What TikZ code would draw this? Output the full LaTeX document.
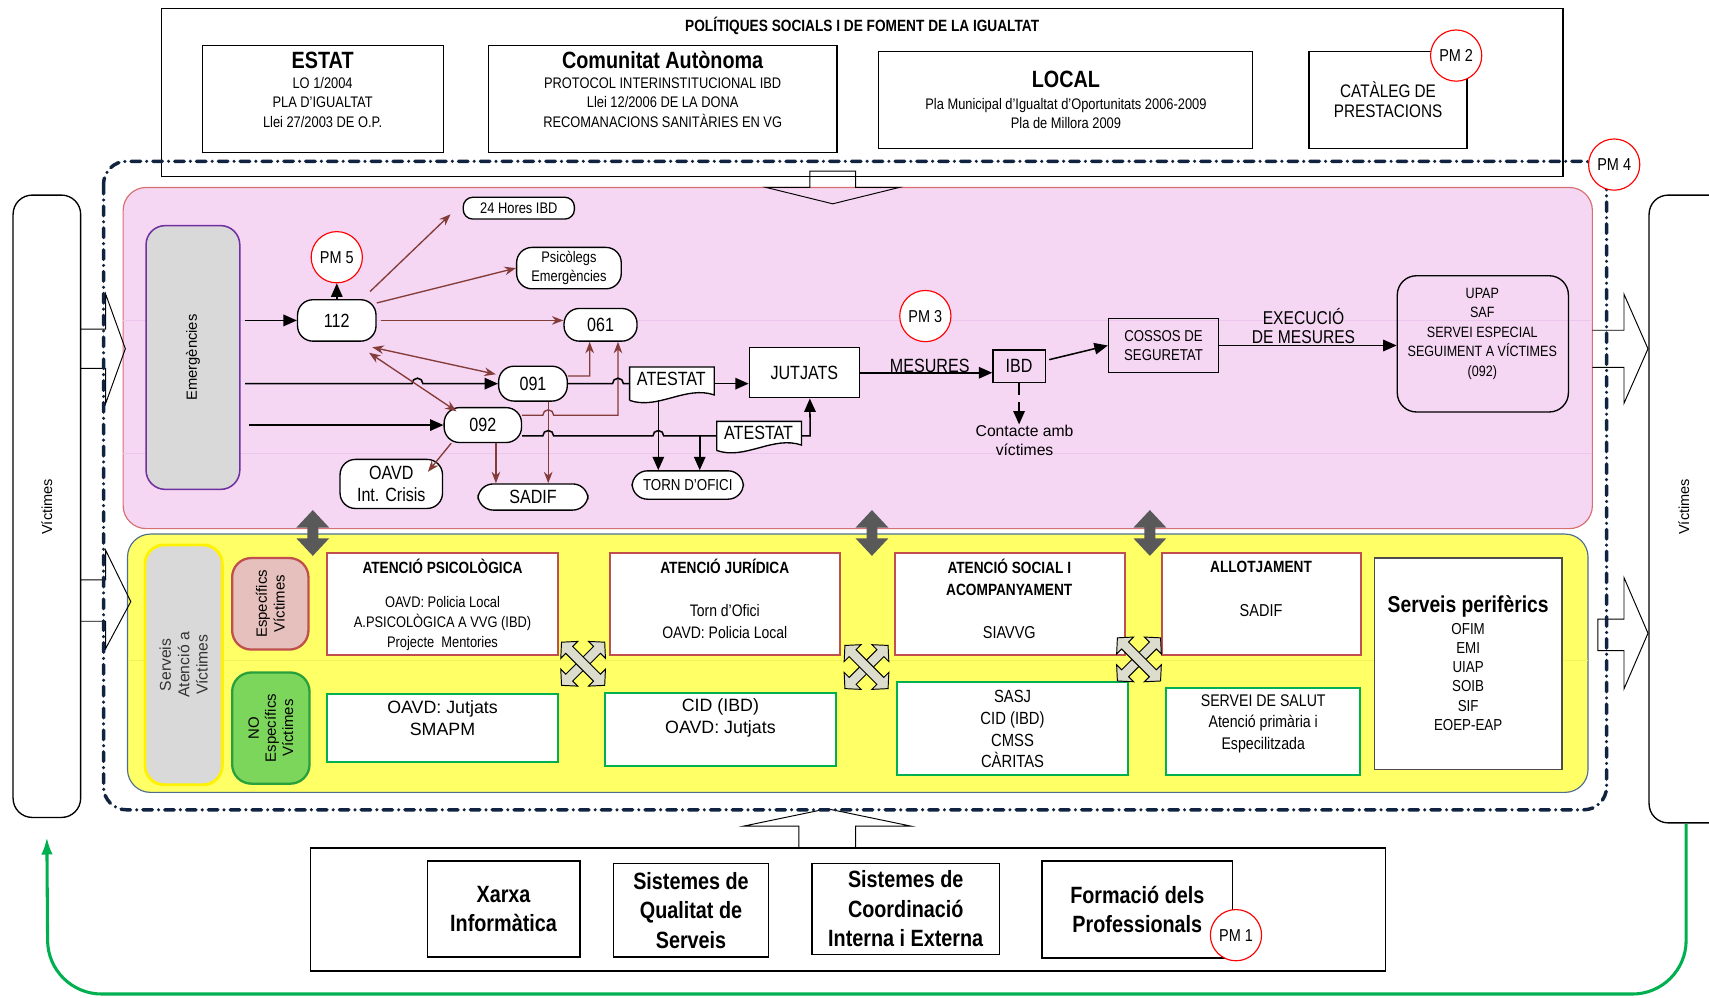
\documentclass[tikz,border=0pt]{standalone}
\usepackage{fontspec}
\setmainfont[FakeStretch=0.84]{Liberation Sans}
\newfontfamily\widefont{Liberation Sans}
\usetikzlibrary{arrows.meta}

\definecolor{pinkfill}{RGB}{245,214,243}
\definecolor{pinkedge}{RGB}{214,112,112}
\definecolor{pinkline}{RGB}{236,198,236}
\definecolor{yellowfill}{RGB}{255,255,102}
\definecolor{yellowedge}{RGB}{79,110,143}
\definecolor{yellowline}{RGB}{242,242,90}
\definecolor{navy}{RGB}{16,36,66}
\definecolor{greyfill}{RGB}{217,217,217}
\definecolor{purpleedge}{RGB}{112,48,160}
\definecolor{brownarrow}{RGB}{132,60,57}
\definecolor{redline}{RGB}{192,80,77}
\definecolor{greenline}{RGB}{0,176,80}
\definecolor{espfill}{RGB}{230,192,188}
\definecolor{nofill}{RGB}{125,214,92}
\definecolor{noedge}{RGB}{40,160,60}
\definecolor{darkarrow}{RGB}{89,89,89}
\definecolor{crossfill}{RGB}{221,221,205}

\newcommand{\fsz}[2]{\fontsize{#1}{#2}\selectfont}
\newcommand{\dblarrow}[1]{\fill[darkarrow] (#1,468) -- (#1+15,484) -- (#1+5,484) -- (#1+5,494) -- (#1+15,494) -- (#1,510) -- (#1-15,494) -- (#1-5,494) -- (#1-5,484) -- (#1-15,484) -- cycle;}
\newcommand{\crossarrow}[2]{\foreach \a in {45,-45}
  {\draw[fill=crossfill, line width=0.5pt, shift={(#1,#2)}, rotate=\a] (-28,0) -- (-18,-11) -- (-18,-4.5) -- (18,-4.5) -- (18,-11) -- (28,0) -- (18,11) -- (18,4.5) -- (-18,4.5) -- (-18,11) -- cycle;}}

\tikzset{
  sz/.style 2 args={minimum width=#1*0.02cm, minimum height=#2*0.02cm},
  plain/.style={draw, line width=0.7pt, fill=white, align=center, inner sep=0pt},
  round/.style={plain, rounded corners=8pt},
  txt/.style={align=center, inner sep=0pt},
  pmark/.style={draw=red, line width=0.6pt, fill=white, circle, minimum size=0.94cm, inner sep=0pt, font=\fsz{9}{10}},
  blk/.style={-{Triangle[length=7pt,width=6pt]}, line width=0.8pt},
  brn/.style={brownarrow, line width=0.7pt, -{Stealth[length=6pt,width=4.5pt]}},
  brnboth/.style={brn, {Stealth[length=6pt,width=4.5pt]}-{Stealth[length=6pt,width=4.5pt]}},
  redbox/.style={draw=redline, line width=1.1pt, fill=white, inner sep=0pt},
  greenbox/.style={draw=greenline, line width=1.1pt, fill=white, inner sep=0pt},
  dashdot/.style={navy, line width=1.8pt, line cap=round, dash pattern=on 5pt off 3.2pt on 0pt off 3.2pt},
  blockarrow/.style={draw, line width=0.5pt}
}

\begin{document}
\begin{tikzpicture}[x=0.02cm, y=-0.02cm]
\useasboundingbox (0,0) rectangle (1568,915);

% policies
\node[plain, line width=0.6pt, sz={1286}{154}] (pol) at (791,85) {};
\node[txt, font=\bfseries\fsz{8.5}{10}] (polt) at (791,24) {POLÍTIQUES SOCIALS I DE FOMENT DE LA IGUALTAT};
\node[plain, sz={221}{98}] (estat) at (296.5,91) {};
\node[txt, font=\bfseries\fsz{12.3}{14}] (estatt) at (296,55) {ESTAT};
\node[txt, font=\fsz{8}{10.24}] (estatl) at (296,94) {LO 1/2004\\PLA D'IGUALTAT\\Llei 27/2003 DE O.P.};
\node[plain, sz={320}{98}] (ccaa) at (608,91) {};
\node[txt, font=\bfseries\fsz{12.3}{14}] (ccaat) at (608,55) {Comunitat Autònoma};
\node[txt, font=\fsz{8}{10.24}] (ccaal) at (608,94) {PROTOCOL INTERINSTITUCIONAL IBD\\Llei 12/2006 DE LA DONA\\RECOMANACIONS SANITÀRIES EN VG};
\node[plain, sz={343}{89}] (local) at (977.5,91.5) {};
\node[txt, font=\bfseries\fsz{12.3}{14}] (localt) at (978,73) {LOCAL};
\node[txt, font=\fsz{8}{10.24}] (locall) at (978,104) {Pla Municipal d’Igualtat d’Oportunitats 2006-2009\\Pla de Millora 2009};
\node[plain, sz={145}{89}, font=\fsz{9.5}{10.24}] (cataleg) at (1273.5,91.5) {CATÀLEG DE\\PRESTACIONS};
\node[pmark] (pm2) at (1336,51) {PM 2};

% two service areas
\draw[fill=pinkfill, draw=pinkedge, line width=0.6pt, rounded corners=12pt] (113,172) rectangle (1461,485);
\draw[pinkline] (113,294) -- (1461,294) (113,416) -- (1461,416);
\draw[fill=yellowfill, draw=yellowedge, line width=0.6pt, rounded corners=12pt] (117,490) rectangle (1457,727);
\draw[yellowline] (117,606) -- (1457,606);

% victims
\node[plain, rounded corners=10pt, sz={62}{571}] (vicl) at (43,464.5) {};
\node[txt, rotate=90, font=\widefont\fsz{7.6}{8}] (vicltxt) at (43,465) {Víctimes};
\node[plain, rounded corners=10pt, sz={77}{576}] (vicr) at (1551.5,467) {};
\node[txt, rotate=90, font=\widefont\fsz{7.6}{8}] (vicrtxt) at (1545,465) {Víctimes};

% block arrows
\draw[blockarrow] (74,302) -- (97,302) -- (97,270) -- (115,320) -- (97,370) -- (97,338) -- (74,338);
\draw[blockarrow] (74,532) -- (97,532) -- (97,505) -- (120,552) -- (97,595) -- (97,570) -- (74,570);
\draw[blockarrow] (1461,303) -- (1490,303) -- (1490,270) -- (1512,320) -- (1490,370) -- (1490,337) -- (1461,337);
\draw[blockarrow] (1466,568) -- (1490,568) -- (1490,530) -- (1512,581) -- (1490,632) -- (1490,597) -- (1466,597) -- cycle;
\draw[blockarrow] (743,157) -- (785,157) -- (785,172) -- (825,172) -- (764,187) -- (703,172) -- (743,172) -- cycle;
\draw[blockarrow] (733,778) -- (733,758) -- (682,758) -- (759,742) -- (836,758) -- (785,758) -- (785,778);

\draw[dashdot, rounded corners=12pt] (95,148) rectangle (1474,743);
\node[pmark] (pm4) at (1481,151) {PM 4};

% emergencies
\node[draw=purpleedge, line width=0.8pt, fill=greyfill, rounded corners=10pt, rotate=90, sz={242}{86}, font=\widefont\fsz{7.7}{8}] (emerg) at (177,328) {Emergències};
\coordinate (e1) at (225,294);
\coordinate (e2) at (225,352);
\coordinate (e3) at (228,390);

\node[round, sz={72}{38}, font=\fsz{10}{11}] (n112) at (309,294) {112};
\node[pmark] (pm5) at (309,236) {PM 5};
\node[round, rounded corners=5pt, sz={102}{20}, font=\fsz{8}{9}] (h24) at (476,191) {24 Hores IBD};
\node[round, sz={96}{38}, font=\fsz{8}{10}] (psico) at (522,246) {Psicòlegs\\Emergències};
\node[round, sz={67}{30}, font=\fsz{10}{11}] (n061) at (551,298) {061};
\node[round, sz={63}{32}, font=\fsz{10}{11}] (n091) at (489,352) {091};
\node[round, sz={71}{32}, font=\fsz{10}{11}] (n092) at (443,390) {092};
\node[round, sz={94}{45}, font=\fsz{10}{11.5}] (oavd) at (359,444) {OAVD\\Int. Crisis};
\node[round, sz={101}{24}, font=\fsz{10}{11}] (sadif) at (489,456) {SADIF};
\node[round, sz={102}{26}, font=\fsz{8.3}{9}] (torn) at (631,445) {TORN D'OFICI};
\node[plain, sz={101}{46}, font=\fsz{10}{11}] (jut) at (738,342) {JUTJATS};
\node[plain, fill=none, sz={48}{30}, font=\fsz{10}{11}] (ibd) at (935,336) {IBD};
\node[txt, font=\widefont\fsz{8.2}{10.2}] (cont) at (940,404) {Contacte amb\\víctimes};
\node[plain, fill=none, sz={101}{50}, font=\fsz{8.2}{10.2}] (cos) at (1067.5,317) {COSSOS DE\\SEGURETAT};
\node[plain, fill=none, rounded corners=10pt, sz={157}{125}] (upap) at (1360.5,315.5) {};
\node[txt, font=\fsz{7.8}{10.2}] (upaptxt) at (1360,306) {UPAP\\SAF\\SERVEI ESPECIAL\\SEGUIMENT A VÍCTIMES\\(092)};
\node[pmark] (pm3) at (849,290) {PM 3};

% atestats
\node[sz={77}{30}] (at1) at (616.5,352) {};
\draw[fill=white, line width=0.7pt] (at1.south west) -- (at1.north west) -- (at1.north east) -- ([shift={(0,-5)}]at1.south east)
  .. controls ([shift={(-26,-14)}]at1.south east) and ([shift={(26,9)}]at1.south west) .. (at1.south west);
\node[txt, font=\fsz{10}{11}] (at1txt) at (616,348) {ATESTAT};
\node[sz={77}{26}] (at2) at (696.5,400) {};
\draw[fill=white, line width=0.7pt] (at2.south west) -- (at2.north west) -- (at2.north east) -- ([shift={(0,-5)}]at2.south east)
  .. controls ([shift={(-26,-14)}]at2.south east) and ([shift={(26,9)}]at2.south west) .. (at2.south west);
\node[txt, font=\fsz{10}{11}] (at2txt) at (696,397) {ATESTAT};

% flows
\draw[blk] (n112) -- (pm5);
\draw[blk] (e1) -- (n112.west);
\draw[blk] (e2) -- (378,352) arc[start angle=180, end angle=360, radius=5] -- (n091.west);
\draw[blk] (e3) -- (n092.west);
\draw[brn] ([shift={(-6,-7)}]n112.north east) -- ([shift={(-11,-5)}]h24.south west);
\draw[brn] ([shift={(0,-16)}]n112.east) -- (psico.west);
\draw[brn] ([xshift=2pt]n112.east) -- (n112.east -| n061.west);
\draw[brnboth] ([shift={(-4,5)}]n112.south east) -- ([shift={(-2,8)}]n091.north west);
\draw[brnboth] ([shift={(-7,10)}]n112.south east) -- ([shift={(12,4)}]n092.north west);
\draw[brn] ([shift={(0,-7)}]n091.east) -- ++(20,0) -- (541,0 |- n061.south);
\draw[brn] ([shift={(0,-9)}]n092.east) -- (498,381) arc[start angle=180, end angle=360, radius=5] -- (567,381) -- (567,0 |- n061.south);
\draw[brn] (503,0 |- n091.south) -- (503,0 |- sadif.north);
\draw[brn] (455,0 |- n092.south) -- (455,0 |- sadif.north);
\draw[brn] (414,0 |- n092.south) -- ([shift={(-14,12)}]oavd.north east);
\draw[line width=0.8pt] (n091.east) -- (562,352) arc[start angle=180, end angle=360, radius=5] -- (at1.west);
\draw[blk] (at1.east) -- (at1.east -| jut.west);
\draw[line width=0.8pt] ([shift={(0,10)}]n092.east) -- (498,400) arc[start angle=180, end angle=360, radius=5] -- (599,400) arc[start angle=180, end angle=360, radius=5] -- (at2.west);
\draw[blk] (604,0 |- at1.south) -- (604,0 |- torn.north);
\draw[blk] (642,0 |- at2.west) -- (642,0 |- torn.north);
\draw[blk] (at2.east) -- ++(8,0) -- (743,0 |- jut.south);
\draw[blk] (jut.east) -- (jut.east -| ibd.west);
\node[txt, font=\fsz{10}{11}, anchor=south] (mes) at (853,342) {MESURES};
\draw[blk, dash pattern=on 6pt off 4pt] (ibd.south) -- (ibd.south |- cont.north);
\draw[blk] ([shift={(3,-6)}]ibd.east) -- (cos.west);
\draw[blk] (cos.east) -- (cos.east -| upap.west);
\node[txt, font=\fsz{9.7}{9.9}] (exe) at (1196,299) {EXECUCIÓ\\DE MESURES};

% services for victims
\node[draw=yellow, line width=1.5pt, fill=greyfill, rounded corners=10pt, rotate=90, sz={220}{71}, txt, font=\widefont\fsz{8.2}{9.6}, text=black!80] (serv) at (168.5,610) {Serveis\\Atenció a\\Víctimes};
\node[draw=redline, line width=1.2pt, fill=espfill, rounded corners=10pt, rotate=90, sz={84}{70}, txt, font=\widefont\fsz{7.8}{9.2}] (espec) at (248,554) {Específics\\Víctimes};
\node[draw=noedge, line width=1.2pt, fill=nofill, rounded corners=10pt, rotate=90, sz={102}{71}, txt, font=\widefont\fsz{7.8}{9}] (noesp) at (248.5,668) {NO\\Específics\\Víctimes};

\node[redbox, sz={212}{94}] (atpsi) at (406,554) {};
\node[txt, font=\bfseries\fsz{8.5}{10}] (atpsit) at (406,520) {ATENCIÓ PSICOLÒGICA};
\node[txt, font=\fsz{8}{10.24}] (atpsil) at (406,572) {OAVD: Policia Local\\A.PSICOLÒGICA A VVG (IBD)\\Projecte\ \ Mentories};
\node[redbox, sz={211}{94}] (atjur) at (665.5,554) {};
\node[txt, font=\bfseries\fsz{8.5}{10}] (atjurt) at (665,520) {ATENCIÓ JURÍDICA};
\node[txt, font=\fsz{8.7}{11.4}] (atjurl) at (665,570) {Torn d’Ofici\\OAVD: Policia Local};
\node[redbox, sz={211}{94}] (atsoc) at (926.5,554) {};
\node[txt, font=\bfseries\fsz{8.5}{11.4}] (atsoct) at (926,530) {ATENCIÓ SOCIAL I\\ACOMPANYAMENT};
\node[txt, font=\fsz{9}{10}] (atsocl) at (926,580) {SIAVVG};
\node[redbox, sz={183}{94}] (allot) at (1157.5,554) {};
\node[txt, font=\bfseries\fsz{8.5}{10}] (allott) at (1157,520) {ALLOTJAMENT};
\node[txt, font=\fsz{9}{10}] (allotl) at (1157,560) {SADIF};

\node[greenbox, sz={212}{62}] (g1) at (406,668) {};
\node[txt, font=\widefont\fsz{9.3}{11.4}] (g1txt) at (406,659) {OAVD: Jutjats\\SMAPM};
\node[greenbox, sz={212}{67}] (g2) at (661,669.5) {};
\node[txt, font=\widefont\fsz{9.3}{11.4}] (g2txt) at (661,659) {CID (IBD)\\OAVD: Jutjats};
\node[greenbox, sz={212}{85}] (g3) at (929,668.5) {};
\node[txt, font=\fsz{9.2}{11.4}] (g3txt) at (929,669) {SASJ\\CID (IBD)\\CMSS\\CÀRITAS};
\node[greenbox, sz={178}{80}] (g4) at (1159,671) {};
\node[txt, font=\fsz{8.8}{11.1}] (g4txt) at (1159,664) {SERVEI DE SALUT\\Atenció primària i\\Especilitzada};
\node[plain, draw=black!70, sz={172}{194}] (perif) at (1347,609) {};
\node[txt, font=\bfseries\fsz{12}{13}] (periftit) at (1347,556) {Serveis perifèrics};
\node[txt, font=\fsz{8.3}{10}] (perifl) at (1347,621) {OFIM\\EMI\\UIAP\\SOIB\\SIF\\EOEP-EAP};

\dblarrow{287}
\dblarrow{800}
\dblarrow{1055}
\crossarrow{535}{609}
\crossarrow{795}{612}
\crossarrow{1045}{605}

% support systems
\node[plain, sz={986}{113}] (base) at (778,834.5) {};
\node[plain, sz={140}{88}, font=\bfseries\fsz{12.3}{15.4}] (xarxa) at (462,834) {Xarxa\\Informàtica};
\node[plain, sz={142}{86}, font=\bfseries\fsz{12.3}{15.4}] (qualitat) at (634,835) {Sistemes de\\Qualitat de\\Serveis};
\node[plain, sz={172}{84}, font=\bfseries\fsz{12.3}{15.4}] (coord) at (831,834) {Sistemes de\\Coordinació\\Interna i Externa};
\node[plain, sz={175}{89}, font=\bfseries\fsz{12.3}{15.4}] (formacio) at (1043.5,834.5) {Formació dels\\Professionals};
\node[pmark] (pm1) at (1134,858) {PM 1};

\draw[greenline, line width=1.6pt, rounded corners=28pt, -{Latex[length=9pt,width=6pt]}] (vicr.south -| 1547,0) -- (1547,912) -- (44,912) -- ([yshift=-10pt]vicl.south);
\end{tikzpicture}
\end{document}
